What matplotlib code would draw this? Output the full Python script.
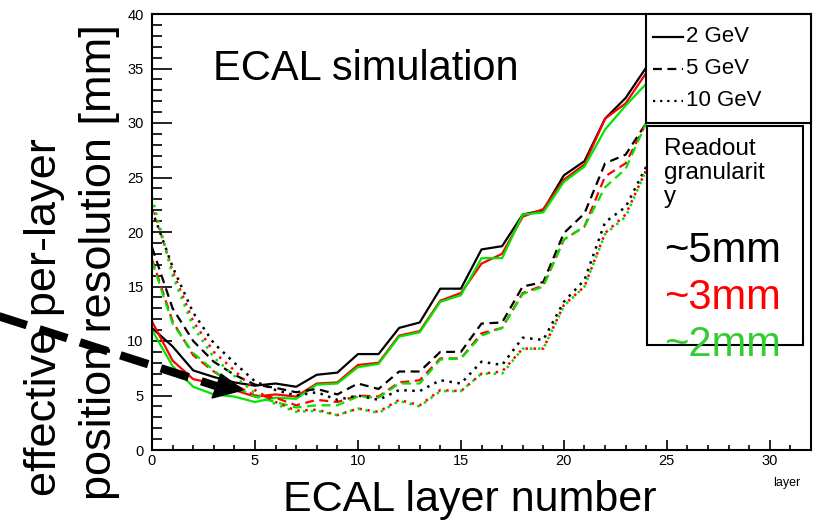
import matplotlib
matplotlib.use('Agg')
import matplotlib.pyplot as plt
from matplotlib.patches import Rectangle, Polygon
from matplotlib.lines import Line2D
import numpy as np

plt.rcParams['font.family'] = ['Liberation Sans', 'DejaVu Sans']

# ECAL layer index
layers = list(range(25))

# 2 GeV (solid)
sol_5mm = [11.2, 9.5, 7.3, 6.7, 6.2, 5.9, 6.1, 5.8, 6.9, 7.1, 8.8, 8.8, 11.2, 11.7,
           14.8, 14.8, 18.4, 18.7, 21.6, 22.0, 25.2, 26.5, 30.4, 32.3, 35.1]
sol_3mm = [11.8, 8.2, 6.5, 6.1, 5.5, 4.9, 5.1, 4.9, 6.1, 6.2, 7.8, 8.0, 10.5, 10.9,
           13.7, 14.4, 17.1, 18.0, 21.4, 22.1, 24.8, 26.2, 30.4, 31.8, 34.6]
sol_2mm = [11.0, 7.7, 5.8, 5.1, 4.9, 4.4, 4.8, 4.7, 6.0, 6.1, 7.6, 7.9, 10.4, 10.8,
           13.6, 14.2, 17.6, 17.6, 21.6, 21.8, 24.6, 26.0, 29.4, 31.6, 33.6]

# 5 GeV (dashed)
das_5mm = [18.6, 13.0, 10.0, 8.1, 6.9, 6.0, 5.7, 5.3, 5.6, 5.1, 6.1, 5.6, 7.2, 7.2,
           9.0, 9.0, 11.6, 11.7, 15.0, 15.4, 19.9, 21.7, 26.3, 27.1, 30.0]
das_3mm = [17.5, 11.8, 8.7, 7.2, 6.0, 5.0, 4.8, 4.1, 4.6, 4.4, 5.0, 4.9, 6.2, 6.4,
           8.4, 8.4, 10.7, 11.2, 14.4, 15.1, 19.3, 20.5, 25.1, 26.3, 30.0]
das_2mm = [17.3, 11.6, 8.9, 7.3, 5.8, 4.9, 4.4, 3.9, 4.1, 4.1, 4.9, 4.8, 6.1, 6.1,
           8.3, 8.4, 10.5, 11.2, 14.3, 15.0, 19.3, 20.5, 24.1, 25.8, 30.0]

# 10 GeV (dotted)
dot_5mm = [22.0, 16.8, 12.6, 9.8, 8.0, 6.3, 5.5, 5.0, 5.3, 4.6, 5.0, 4.6, 5.5, 5.4,
           6.4, 6.1, 8.1, 7.8, 10.3, 10.1, 13.6, 15.6, 20.9, 22.3, 26.0]
dot_3mm = [22.5, 16.4, 11.8, 9.0, 7.3, 5.5, 4.4, 3.6, 3.7, 3.2, 3.8, 3.5, 4.6, 4.1,
           5.5, 5.4, 7.0, 7.2, 9.3, 9.3, 13.3, 15.0, 19.9, 21.6, 25.7]
dot_2mm = [23.2, 16.0, 11.3, 8.5, 6.8, 5.2, 4.2, 3.5, 3.6, 3.2, 3.8, 3.4, 4.5, 4.0,
           5.4, 5.4, 7.0, 7.0, 9.3, 9.3, 13.2, 15.0, 19.8, 21.4, 25.7]

W, H = 818, 522


def fx(x):
    return x / W


def fy(y):
    return 1 - y / H


fig = plt.figure(figsize=(W / 100, H / 100), dpi=100)
ax = fig.add_axes([fx(152), fy(450), fx(811) - fx(152), fy(14) - fy(450)])

green = '#00e600'
cols = ['black', 'red', green]
for ys, c in zip([sol_5mm, sol_3mm, sol_2mm], cols):
    ax.plot(layers, ys, color=c, lw=1.6, ls='-')
for ys, c in zip([das_5mm, das_3mm, das_2mm], cols):
    ax.plot(layers, ys, color=c, lw=1.6, ls=(0, (4, 2.5)))
for ys, c in zip([dot_5mm, dot_3mm, dot_2mm], cols):
    ax.plot(layers, ys, color=c, lw=1.8, ls=(0, (1, 2.2)))

ax.set_xlim(0, 32)
ax.set_ylim(0, 40)
ax.set_xticks(np.arange(0, 31, 5))
ax.set_xticks(np.arange(0, 33, 1), minor=True)
ax.set_yticks(np.arange(0, 41, 5))
ax.set_yticks(np.arange(0, 41, 1), minor=True)
ax.tick_params(axis='x', which='major', direction='in', length=7.5, width=1.2,
               labelsize=10.5, pad=3)
ax.tick_params(axis='x', which='minor', direction='in', length=3.8, width=1.2)
ax.tick_params(axis='y', which='major', direction='in', length=14.5, width=1.2,
               labelsize=10.5, pad=6)
ax.tick_params(axis='y', which='minor', direction='in', length=7.2, width=1.2)
for s in ax.spines.values():
    s.set_linewidth(1.5)

ax.text(0.325, 0.875, 'ECAL simulation', transform=ax.transAxes,
        fontsize=30, ha='center', va='center')

# axis titles
fig.text(fx(470), fy(500), 'ECAL layer number', fontsize=31, ha='center', va='center')
fig.text(fx(787), fy(483), 'layer', fontsize=9, ha='center', va='center')
fig.text(fx(45), fy(496), 'effective per-layer', fontsize=32.5, rotation=90,
         ha='center', va='bottom')
fig.text(fx(100), fy(500), 'position resolution [mm]', fontsize=32.5, rotation=90,
         ha='center', va='bottom')

# energy legend box
fig.patches.append(Rectangle((fx(646), fy(123)), fx(811) - fx(646), fy(14) - fy(123),
                             transform=fig.transFigure, facecolor='white',
                             edgecolor='black', lw=1.5, zorder=3))
leg_labels = ['2 GeV', '5 GeV', '10 GeV']
leg_styles = ['-', (0, (4, 2.5)), (0, (1, 2.2))]
for i, (lab, st) in enumerate(zip(leg_labels, leg_styles)):
    yy = 37 + i * 32
    fig.lines.append(Line2D([fx(653), fx(683)], [fy(yy), fy(yy)], color='black',
                            lw=1.6, ls=st, transform=fig.transFigure, zorder=4))
    fig.text(fx(686), fy(yy), lab, fontsize=16, ha='left', va='center', zorder=4)

# granularity box
fig.patches.append(Rectangle((fx(647), fy(345)), fx(803) - fx(647), fy(126) - fy(345),
                             transform=fig.transFigure, facecolor='white',
                             edgecolor='black', lw=1.5, zorder=3))
fig.text(fx(664), fy(138), 'Readout\ngranularit\ny', fontsize=17.5, ha='left', va='top',
         linespacing=1.12, zorder=4)
gran_labels = ['~5mm', '~3mm', '~2mm']
gran_cols = ['black', 'red', '#33cc33']
for i, (lab, c) in enumerate(zip(gran_labels, gran_cols)):
    fig.text(fx(664), fy(251 + i * 47), lab, fontsize=30, color=c, ha='left',
             va='center', zorder=4)

# dashed arrow
fig.lines.append(Line2D([fx(-5), fx(216)], [fy(315), fy(386)], color='black', lw=6,
                        dashes=(3.5, 1.6), transform=fig.transFigure, zorder=5))
fig.patches.append(Polygon([(fx(221), fy(374)), (fx(243), fy(390)), (fx(212), fy(398))],
                           closed=True, transform=fig.transFigure, facecolor='black',
                           edgecolor='black', zorder=5))

fig.savefig('out.png', dpi=100)
